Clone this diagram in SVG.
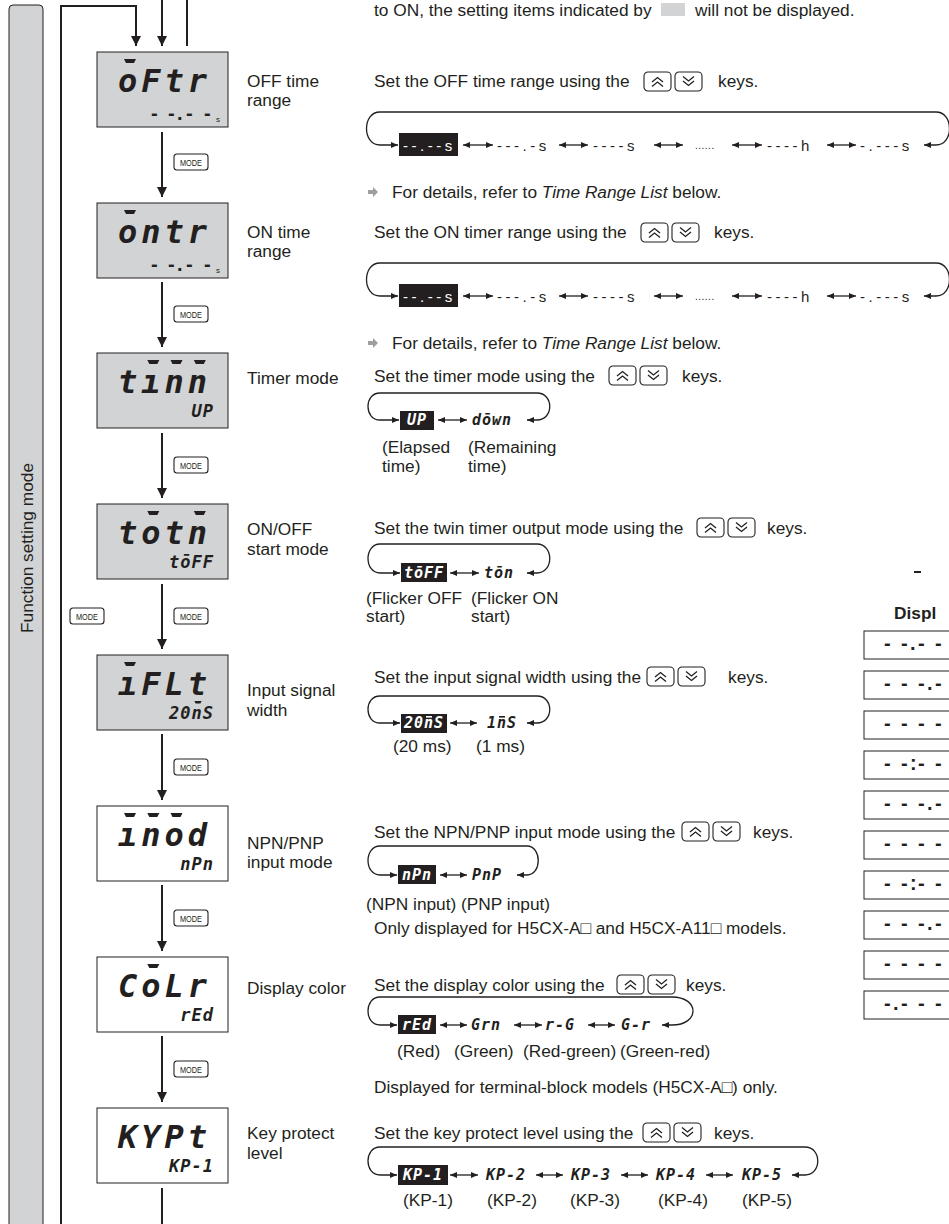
<svg xmlns="http://www.w3.org/2000/svg" xmlns:xlink="http://www.w3.org/1999/xlink" width="949" height="1224" viewBox="0 0 949 1224">
<style>
.t{font-family:"Liberation Sans",Arial,sans-serif;font-size:17.3px;fill:#231f20}
.b{font-weight:bold}
.lcd{font-family:"DejaVu Sans Mono",monospace;font-weight:bold;font-style:italic;fill:#231f20}
.big{font-size:32px;letter-spacing:4px}
.sm{font-size:17px;letter-spacing:1px}
.s7{font-family:"DejaVu Sans Mono",monospace;font-weight:bold;font-style:italic;font-size:15px;letter-spacing:1px;fill:#231f20}
.rt{font-family:"Liberation Sans",Arial,sans-serif;font-size:15px;letter-spacing:3.5px;fill:#231f20}
.dots{font-family:"Liberation Sans",Arial,sans-serif;font-size:10px;letter-spacing:0.5px;fill:#231f20}
.seg{font-family:"Liberation Sans",Arial,sans-serif;font-weight:bold;font-size:20px;fill:#231f20}
.tiny{font-family:"Liberation Sans",Arial,sans-serif;font-size:8px;fill:#231f20}
.w{fill:#fff}
.gbox{fill:#d1d3d4;stroke:#231f20;stroke-width:1}
.wbox{fill:#fff;stroke:#231f20;stroke-width:1}
.hl{fill:#231f20}
.conn{stroke:#231f20;stroke-width:2;fill:none}
.loop{stroke:#231f20;stroke-width:1.3;fill:none}
.key{fill:#fff;stroke:#231f20;stroke-width:1.1}
.chev{fill:none;stroke:#231f20;stroke-width:1.3}
.mk{font-family:"Liberation Sans",Arial,sans-serif;font-size:9px;fill:#231f20}
.tbl{fill:#fff;stroke:#231f20;stroke-width:1}
.bar{fill:#231f20}
</style>
<defs>
<marker id="ah" markerUnits="userSpaceOnUse" markerWidth="10" markerHeight="10" viewBox="0 0 10 10" refX="10" refY="5" orient="auto"><path d="M0,0 L10,5 L0,10 z" fill="#231f20"/></marker>
<marker id="sa" markerUnits="userSpaceOnUse" markerWidth="7" markerHeight="6" viewBox="0 0 7 6" refX="7" refY="3" orient="auto-start-reverse"><path d="M0,0 L7,3 L0,6 z" fill="#231f20"/></marker>
<g id="ku"><rect x="0" y="0" width="27" height="19" rx="4" class="key"/><polyline points="8,10 13.5,5.5 19,10" class="chev"/><polyline points="8,14.5 13.5,10 19,14.5" class="chev"/></g>
<g id="kd"><rect x="0" y="0" width="27" height="19" rx="4" class="key"/><polyline points="8,4.5 13.5,9 19,4.5" class="chev"/><polyline points="8,9 13.5,13.5 19,9" class="chev"/></g>
<g id="mode"><rect x="0" y="0" width="34" height="16" rx="3" class="key"/><text class="mk" x="6" y="11.8" textLength="22" lengthAdjust="spacingAndGlyphs">MODE</text></g>
<polygon id="garr" points="0,-2 5,-2 5,-5 10,0 5,5 5,2 0,2" fill="#9d9fa2"/>
<polygon id="bb" points="-6,0 6,0 4,4 -4,4" class="bar"/>
<rect id="sb" x="-3" y="0" width="6" height="1.6"/>
</defs>

<g id="side-bar">
<rect x="9" y="5" width="34" height="1240" rx="4" class="gbox" stroke-width="1.2"/>
<text class="t" text-anchor="middle" transform="translate(33,548) rotate(-90)">Function setting mode</text>
</g>

<g id="note">
<text class="t" x="374" y="16">to ON, the setting items indicated by</text>
<rect x="661" y="3" width="24" height="13" fill="#d1d3d4"/>
<text class="t" x="695" y="16">will not be displayed.</text>
</g>

<g id="connectors">
<path class="conn" d="M61,1224 V6 H136 V46" marker-end="url(#ah)"/>
<path class="conn" d="M162,0 V46" marker-end="url(#ah)"/>
<path class="conn" d="M187,0 V46"/>
<path class="conn" d="M162,132 V197" marker-end="url(#ah)"/>
<path class="conn" d="M162,282 V347" marker-end="url(#ah)"/>
<path class="conn" d="M162,433 V498" marker-end="url(#ah)"/>
<path class="conn" d="M162,584 V649" marker-end="url(#ah)"/>
<path class="conn" d="M162,734 V800" marker-end="url(#ah)"/>
<path class="conn" d="M162,885 V951" marker-end="url(#ah)"/>
<path class="conn" d="M162,1036 V1102" marker-end="url(#ah)"/>
<path class="conn" d="M162,1188 V1224"/>
<use href="#mode" x="174" y="154"/>
<use href="#mode" x="174" y="306"/>
<use href="#mode" x="174" y="457"/>
<use href="#mode" x="174" y="608"/>
<use href="#mode" x="70" y="608"/>
<use href="#mode" x="174" y="759"/>
<use href="#mode" x="174" y="910"/>
<use href="#mode" x="174" y="1061"/>
</g>

<!-- OFF time range -->
<g id="node-oftr">
<rect class="gbox" x="97" y="52" width="131" height="75"/>
<use href="#bb" x="130" y="59"/>
<text class="lcd big" x="118" y="92">oFtr</text>
<text class="seg" x="151 168 177 186 204" y="120">--.--</text>
<text class="tiny" x="216" y="122">s</text>
<text class="t" x="247" y="87">OFF time</text>
<text class="t" x="247" y="106">range</text>
<text class="t" x="374" y="87">Set the OFF time range using the</text>
<use href="#ku" x="644" y="72"/><use href="#kd" x="675" y="72"/>
<text class="t" x="718" y="87">keys.</text>
<path class="loop" d="M924,145 H936 C954,145 954,112 936,112 H380 C362,112 362,145 380,145 H398" marker-start="url(#sa)" marker-end="url(#sa)"/>
<rect class="hl" x="399" y="133" width="59" height="23"/>
<text class="rt w" x="403" y="151">--.--s</text>
<path class="loop" d="M463,145 H493" marker-start="url(#sa)" marker-end="url(#sa)"/>
<text class="rt" x="497" y="151">---.-s</text>
<path class="loop" d="M559,145 H588" marker-start="url(#sa)" marker-end="url(#sa)"/>
<text class="rt" x="593" y="151">----s</text>
<path class="loop" d="M654,145 H683" marker-start="url(#sa)" marker-end="url(#sa)"/>
<text class="dots" x="695" y="149">......</text>
<path class="loop" d="M732,145 H762" marker-start="url(#sa)" marker-end="url(#sa)"/>
<text class="rt" x="767" y="151">----h</text>
<path class="loop" d="M827,145 H856" marker-start="url(#sa)" marker-end="url(#sa)"/>
<text class="rt" x="860" y="151">-.---s</text>
<use href="#garr" x="368" y="192"/>
<text class="t" x="392" y="198">For details, refer to <tspan font-style="italic">Time Range List</tspan> below.</text>
</g>

<!-- ON time range -->
<g id="node-ontr">
<rect class="gbox" x="97" y="203" width="131" height="75"/>
<use href="#bb" x="130" y="210"/>
<text class="lcd big" x="118" y="243">ontr</text>
<text class="seg" x="151 168 177 186 204" y="271">--.--</text>
<text class="tiny" x="216" y="273">s</text>
<text class="t" x="247" y="238">ON time</text>
<text class="t" x="247" y="257">range</text>
<text class="t" x="374" y="238">Set the ON timer range using the</text>
<use href="#ku" x="641" y="223"/><use href="#kd" x="672" y="223"/>
<text class="t" x="714" y="238">keys.</text>
<path class="loop" d="M924,296 H936 C954,296 954,263 936,263 H380 C362,263 362,296 380,296 H398" marker-start="url(#sa)" marker-end="url(#sa)"/>
<rect class="hl" x="399" y="284" width="59" height="23"/>
<text class="rt w" x="403" y="302">--.--s</text>
<path class="loop" d="M463,296 H493" marker-start="url(#sa)" marker-end="url(#sa)"/>
<text class="rt" x="497" y="302">---.-s</text>
<path class="loop" d="M559,296 H588" marker-start="url(#sa)" marker-end="url(#sa)"/>
<text class="rt" x="593" y="302">----s</text>
<path class="loop" d="M654,296 H683" marker-start="url(#sa)" marker-end="url(#sa)"/>
<text class="dots" x="695" y="300">......</text>
<path class="loop" d="M732,296 H762" marker-start="url(#sa)" marker-end="url(#sa)"/>
<text class="rt" x="767" y="302">----h</text>
<path class="loop" d="M827,296 H856" marker-start="url(#sa)" marker-end="url(#sa)"/>
<text class="rt" x="860" y="302">-.---s</text>
<use href="#garr" x="368" y="343"/>
<text class="t" x="392" y="349">For details, refer to <tspan font-style="italic">Time Range List</tspan> below.</text>
</g>

<!-- Timer mode -->
<g id="node-timm">
<rect class="gbox" x="97" y="353" width="131" height="75"/>
<use href="#bb" x="153.3" y="360"/><use href="#bb" x="176.5" y="360"/><use href="#bb" x="199.8" y="360"/>
<text class="lcd big" x="118" y="393">tınn</text>
<text class="lcd sm" x="214" y="417" text-anchor="end">UP</text>
<text class="t" x="247" y="384">Timer mode</text>
<text class="t" x="374" y="382">Set the timer mode using the</text>
<use href="#ku" x="609" y="366"/><use href="#kd" x="640" y="366"/>
<text class="t" x="682" y="382">keys.</text>
<path class="loop" d="M527,420 H537 C554,420 554,393 537,393 H380 C364,393 364,420 380,420 H399" marker-start="url(#sa)" marker-end="url(#sa)"/>
<rect class="hl" x="400" y="411" width="34" height="19"/>
<text class="s7 w" x="417" y="425" text-anchor="middle">UP</text>
<path class="loop" d="M438,420 H467" marker-start="url(#sa)" marker-end="url(#sa)"/>
<text class="s7" x="472" y="425">dōwn</text>
<text class="t" x="382" y="453">(Elapsed</text>
<text class="t" x="382" y="472">time)</text>
<text class="t" x="468" y="453">(Remaining</text>
<text class="t" x="468" y="472">time)</text>
</g>

<!-- ON/OFF start mode -->
<g id="node-totm">
<rect class="gbox" x="97" y="504" width="131" height="75"/>
<use href="#bb" x="153.3" y="511"/><use href="#bb" x="199.8" y="511"/>
<text class="lcd big" x="118" y="544">totn</text>
<text class="lcd sm" x="214" y="568" text-anchor="end">tōFF</text>
<text class="t" x="247" y="535">ON/OFF</text>
<text class="t" x="247" y="555">start mode</text>
<text class="t" x="374" y="534">Set the twin timer output mode using the</text>
<use href="#ku" x="697" y="518"/><use href="#kd" x="728" y="518"/>
<text class="t" x="767" y="534">keys.</text>
<path class="loop" d="M527,573 H537 C554,573 554,544 537,544 H380 C364,544 364,573 380,573 H400" marker-start="url(#sa)" marker-end="url(#sa)"/>
<rect class="hl" x="401" y="563" width="46" height="19"/>
<text class="s7 w" x="424" y="578" text-anchor="middle">tōFF</text>
<path class="loop" d="M450,573 H479" marker-start="url(#sa)" marker-end="url(#sa)"/>
<text class="s7" x="484" y="578">tōn</text>
<text class="t" x="366" y="604">(Flicker OFF</text>
<text class="t" x="366" y="622">start)</text>
<text class="t" x="471" y="604">(Flicker ON</text>
<text class="t" x="471" y="622">start)</text>
</g>

<!-- Input signal width -->
<g id="node-iflt">
<rect class="gbox" x="97" y="655" width="131" height="75"/>
<use href="#bb" x="130" y="662"/>
<text class="lcd big" x="118" y="695">ıFLt</text>
<use href="#bb" x="198" y="701" transform="translate(198,701) scale(0.6) translate(-198,-701)"/>
<text class="lcd sm" x="214" y="719" text-anchor="end">20nS</text>
<text class="t" x="247" y="696">Input signal</text>
<text class="t" x="247" y="716">width</text>
<text class="t" x="374" y="683">Set the input signal width using the</text>
<use href="#ku" x="647" y="667"/><use href="#kd" x="678" y="667"/>
<text class="t" x="728" y="683">keys.</text>
<path class="loop" d="M527,723 H537 C554,723 554,696 537,696 H380 C364,696 364,723 380,723 H400" marker-start="url(#sa)" marker-end="url(#sa)"/>
<rect class="hl" x="401" y="714" width="46" height="19"/>
<use href="#sb" x="429" y="716" fill="#fff"/>
<text class="s7 w" x="424" y="728" text-anchor="middle">20nS</text>
<path class="loop" d="M450,723 H477" marker-start="url(#sa)" marker-end="url(#sa)"/>
<use href="#sb" x="502" y="716" fill="#231f20"/>
<text class="s7" x="487" y="728">1nS</text>
<text class="t" x="393" y="752">(20 ms)</text>
<text class="t" x="476" y="752">(1 ms)</text>
</g>

<!-- NPN/PNP input mode -->
<g id="node-imod">
<rect class="wbox" x="97" y="806" width="131" height="75"/>
<use href="#bb" x="130" y="813"/><use href="#bb" x="153.3" y="813"/><use href="#bb" x="176.5" y="813"/>
<text class="lcd big" x="118" y="846">ınod</text>
<text class="lcd sm" x="214" y="870" text-anchor="end">nPn</text>
<text class="t" x="247" y="849">NPN/PNP</text>
<text class="t" x="247" y="868">input mode</text>
<text class="t" x="374" y="838">Set the NPN/PNP input mode using the</text>
<use href="#ku" x="682" y="822"/><use href="#kd" x="713" y="822"/>
<text class="t" x="753" y="838">keys.</text>
<path class="loop" d="M517,875 H527 C542,875 542,846 527,846 H380 C364,846 364,875 380,875 H397" marker-start="url(#sa)" marker-end="url(#sa)"/>
<rect class="hl" x="398" y="865" width="38" height="19"/>
<text class="s7 w" x="417" y="880" text-anchor="middle">nPn</text>
<path class="loop" d="M440,875 H467" marker-start="url(#sa)" marker-end="url(#sa)"/>
<text class="s7" x="472" y="880">PnP</text>
<text class="t" x="366" y="910">(NPN input) (PNP input)</text>
<text class="t" x="374" y="934">Only displayed for H5CX-A□ and H5CX-A11□ models.</text>
</g>

<!-- Display color -->
<g id="node-colr">
<rect class="wbox" x="97" y="957" width="131" height="75"/>
<use href="#bb" x="153.3" y="964"/>
<text class="lcd big" x="118" y="997">CoLr</text>
<text class="lcd sm" x="214" y="1021" text-anchor="end">rEd</text>
<text class="t" x="247" y="994">Display color</text>
<text class="t" x="374" y="991">Set the display color using the</text>
<use href="#ku" x="617" y="975"/><use href="#kd" x="648" y="975"/>
<text class="t" x="686" y="991">keys.</text>
<path class="loop" d="M662,1025 H672 C700,1025 700,997 672,997 H380 C364,997 364,1025 380,1025 H397" marker-start="url(#sa)" marker-end="url(#sa)"/>
<rect class="hl" x="398" y="1015" width="38" height="19"/>
<text class="s7 w" x="417" y="1030" text-anchor="middle">rEd</text>
<path class="loop" d="M440,1025 H467" marker-start="url(#sa)" marker-end="url(#sa)"/>
<text class="s7" x="471" y="1030">Grn</text>
<path class="loop" d="M514,1025 H542" marker-start="url(#sa)" marker-end="url(#sa)"/>
<text class="s7" x="545" y="1030">r-G</text>
<path class="loop" d="M588,1025 H615" marker-start="url(#sa)" marker-end="url(#sa)"/>
<text class="s7" x="621" y="1030">G-r</text>
<text class="t" x="397" y="1057">(Red)</text>
<text class="t" x="454" y="1057">(Green)</text>
<text class="t" x="523" y="1057">(Red-green)</text>
<text class="t" x="620" y="1057">(Green-red)</text>
<text class="t" x="374" y="1093">Displayed for terminal-block models (H5CX-A□) only.</text>
</g>

<!-- Key protect level -->
<g id="node-kypt">
<rect class="wbox" x="97" y="1108" width="131" height="75"/>
<text class="lcd big" x="118" y="1148">KYPt</text>
<text class="lcd sm" x="214" y="1172" text-anchor="end">KP-1</text>
<text class="t" x="247" y="1139">Key protect</text>
<text class="t" x="247" y="1159">level</text>
<text class="t" x="374" y="1139">Set the key protect level using the</text>
<use href="#ku" x="643" y="1123"/><use href="#kd" x="674" y="1123"/>
<text class="t" x="714" y="1139">keys.</text>
<path class="loop" d="M792,1175 H805 C822,1175 822,1147 805,1147 H380 C364,1147 364,1175 380,1175 H397" marker-start="url(#sa)" marker-end="url(#sa)"/>
<rect class="hl" x="398" y="1165" width="50" height="20"/>
<text class="s7 w" x="423" y="1180" text-anchor="middle">KP-1</text>
<path class="loop" d="M450,1175 H478" marker-start="url(#sa)" marker-end="url(#sa)"/>
<text class="s7" x="486" y="1180">KP-2</text>
<path class="loop" d="M536,1175 H563" marker-start="url(#sa)" marker-end="url(#sa)"/>
<text class="s7" x="571" y="1180">KP-3</text>
<path class="loop" d="M621,1175 H648" marker-start="url(#sa)" marker-end="url(#sa)"/>
<text class="s7" x="656" y="1180">KP-4</text>
<path class="loop" d="M706,1175 H733" marker-start="url(#sa)" marker-end="url(#sa)"/>
<text class="s7" x="742" y="1180">KP-5</text>
<text class="t" x="403" y="1206">(KP-1)</text>
<text class="t" x="487" y="1206">(KP-2)</text>
<text class="t" x="570" y="1206">(KP-3)</text>
<text class="t" x="658" y="1206">(KP-4)</text>
<text class="t" x="742" y="1206">(KP-5)</text>
</g>

<!-- Time range list (cut off at right edge) -->
<g id="time-range-list">
<line x1="914" y1="572" x2="921" y2="572" stroke="#231f20" stroke-width="2"/>
<text class="t b" x="894" y="619">Displ</text>
<rect class="tbl" x="864" y="631" width="100" height="28"/>
<text class="seg" x="884 901 910 918 935" y="650">--.--</text>
<rect class="tbl" x="864" y="671" width="100" height="28"/>
<text class="seg" x="884 901 918 927 935" y="690">---.-</text>
<rect class="tbl" x="864" y="711" width="100" height="28"/>
<text class="seg" x="884 901 918 935" y="730">----</text>
<rect class="tbl" x="864" y="751" width="100" height="28"/>
<text class="seg" x="884 901 910 918 935" y="770">--:--</text>
<rect class="tbl" x="864" y="791" width="100" height="28"/>
<text class="seg" x="884 901 918 927 935" y="810">---.-</text>
<rect class="tbl" x="864" y="831" width="100" height="28"/>
<text class="seg" x="884 901 918 935" y="850">----</text>
<rect class="tbl" x="864" y="871" width="100" height="28"/>
<text class="seg" x="884 901 910 918 935" y="890">--:--</text>
<rect class="tbl" x="864" y="911" width="100" height="28"/>
<text class="seg" x="884 901 918 927 935" y="930">---.-</text>
<rect class="tbl" x="864" y="951" width="100" height="28"/>
<text class="seg" x="884 901 918 935" y="970">----</text>
<rect class="tbl" x="864" y="991" width="100" height="28"/>
<text class="seg" x="884 893 901 918 935" y="1010">-.---</text>
</g>
</svg>
